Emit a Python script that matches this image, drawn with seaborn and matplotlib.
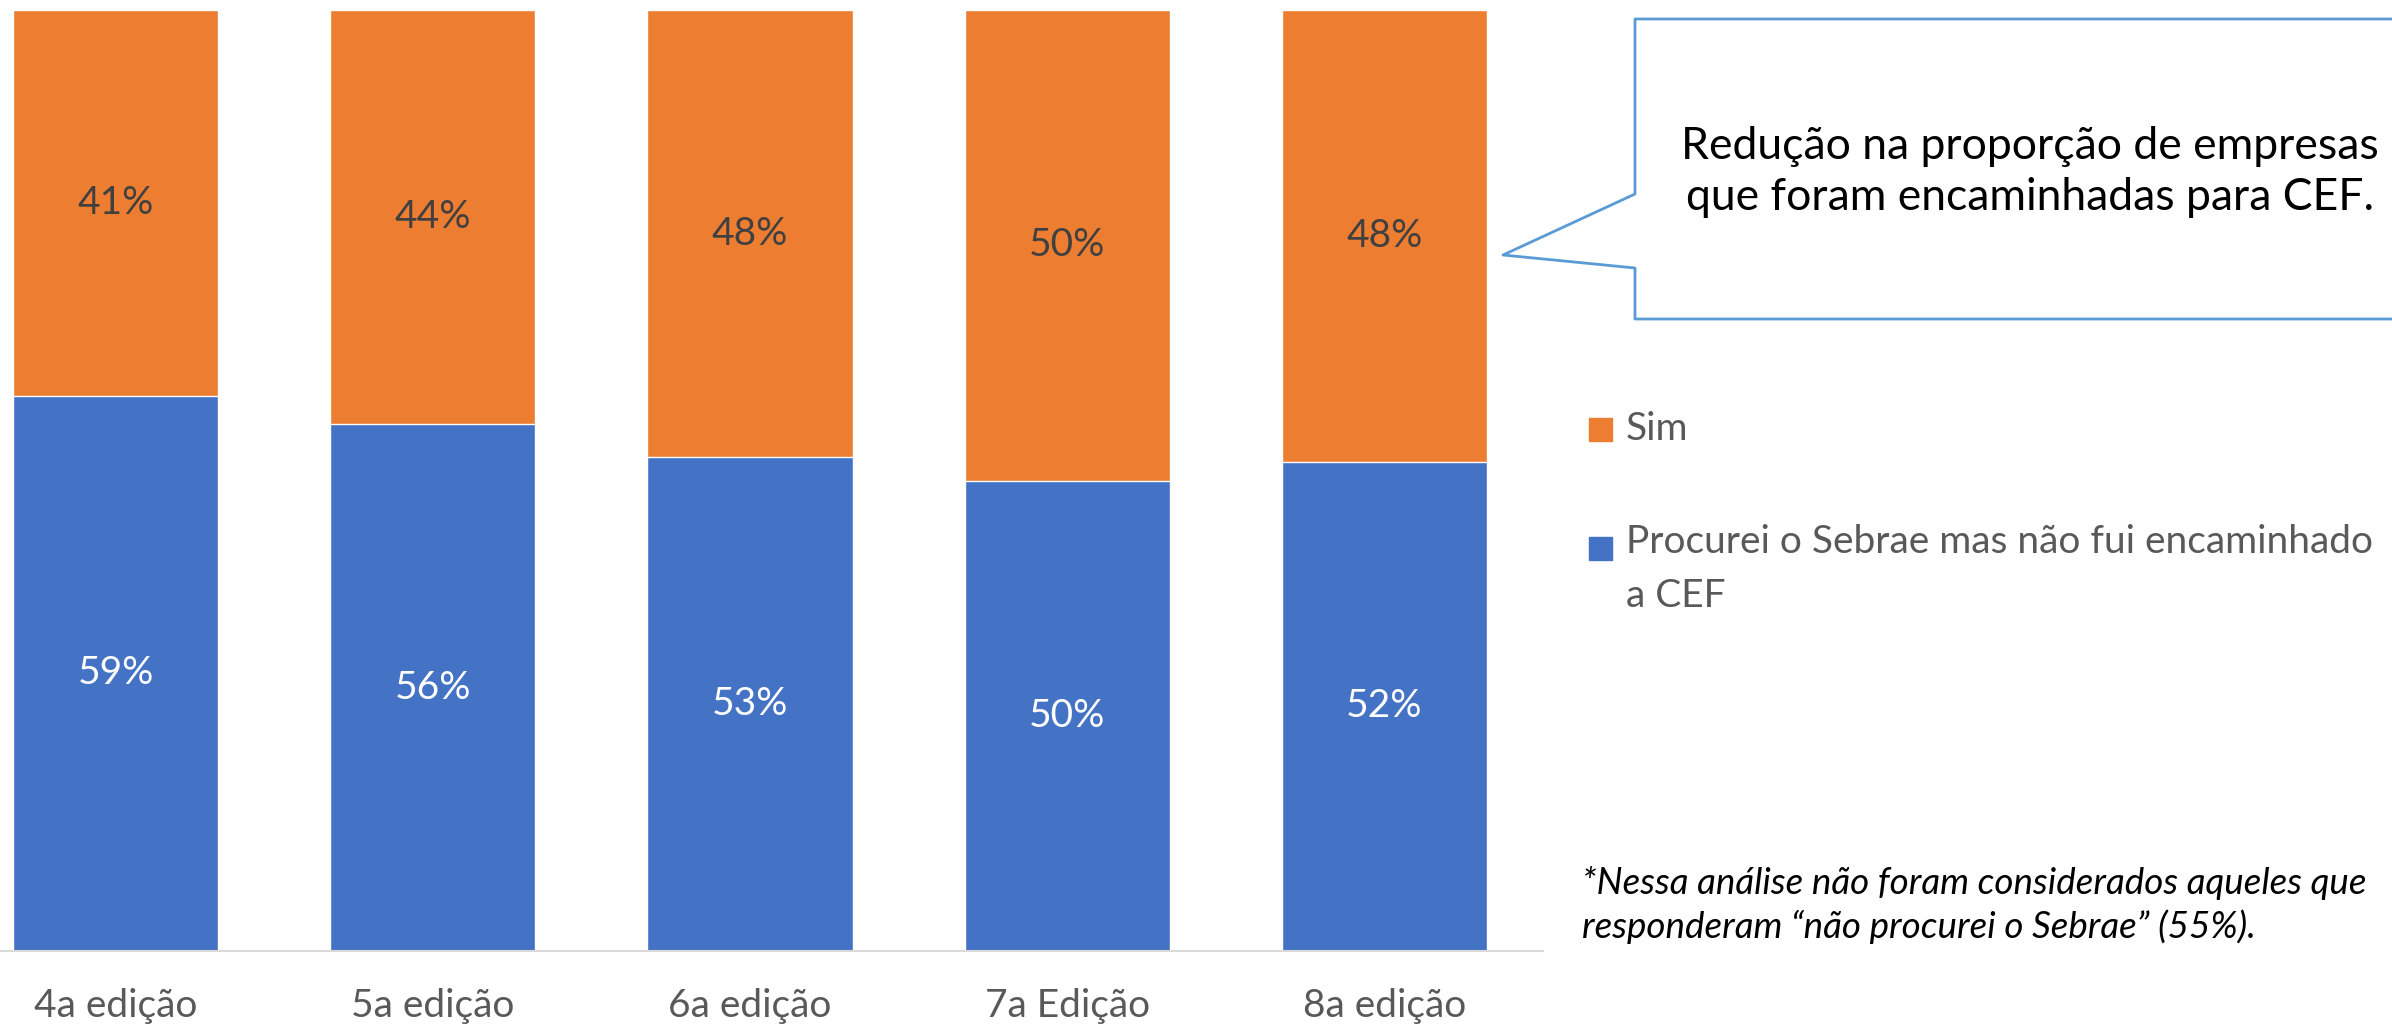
import pandas as pd
import matplotlib.pyplot as plt
import seaborn as sns
from matplotlib.patches import Rectangle
from matplotlib.lines import Line2D

# Data
edicoes = ['4a edição', '5a edição', '6a edição', '7a Edição', '8a edição']
sim = [41, 44, 48, 50, 48]
procurei = [59, 56, 53, 50, 52]

nome_sim = 'Sim'
nome_procurei = 'Procurei o Sebrae mas não fui encaminhado\na CEF'
texto_callout = 'Redução na proporção de empresas\nque foram encaminhadas para CEF.'
nota = ('*Nessa análise não foram considerados aqueles que\n'
        'responderam \u201cnão procurei o Sebrae\u201d (55%).')

AZUL = '#4472C4'
LARANJA = '#ED7D31'
CINZA = '#595959'

df = pd.DataFrame({'edicao': edicoes, 'sim': sim, 'procurei': procurei})
df['total'] = df['sim'] + df['procurei']
# 100% stacked, like the Excel chart
df['share_procurei'] = df['procurei'] / df['total']
df['share_total'] = 1.0

sns.set_style('white')
plt.rcParams['font.family'] = ['Lato', 'DejaVu Sans']

W, H = 2392, 1027
fig = plt.figure(figsize=(W / 100, H / 100), dpi=100)


def fx(x):
    return x / W


def fy(y):
    return 1 - y / H


ax = fig.add_axes([0, fy(951), fx(1543), (951 - 10) / H])

sns.barplot(x='edicao', y='share_total', data=df, color=LARANJA, width=0.647,
            saturation=1, ax=ax)
sns.barplot(x='edicao', y='share_procurei', data=df, color=AZUL, width=0.647,
            saturation=1, ax=ax)

# data labels
for i, row in df.iterrows():
    b = row['share_procurei']
    ax.text(i, b / 2, f"{row['procurei']}%", ha='center', va='center',
            color='white', fontsize=28)
    ax.text(i, b + (1 - b) / 2, f"{row['sim']}%", ha='center', va='center',
            color='#404040', fontsize=28)

ax.set_xlim(-0.5 + 43 / 317, 4.5)
ax.set_ylim(0, 1)
ax.set_xlabel('')
ax.set_ylabel('')
ax.set_yticks([])
ax.tick_params(axis='x', length=0, pad=27, labelsize=28, labelcolor=CINZA)
for s in ['top', 'right', 'left']:
    ax.spines[s].set_visible(False)
ax.spines['bottom'].set_color('#D9D9D9')
ax.spines['bottom'].set_linewidth(1.5)

# legend drawn by hand (square aligned with first line)
fig.patches.append(Rectangle((fx(1589), fy(441)), fx(23), 23 / H,
                             transform=fig.transFigure, color=LARANJA))
fig.text(fx(1626), fy(429), nome_sim, ha='left', va='center',
         fontsize=28, color=CINZA)
fig.patches.append(Rectangle((fx(1589), fy(560)), fx(23), 23 / H,
                             transform=fig.transFigure, color=AZUL))
fig.text(fx(1626), fy(524), nome_procurei, ha='left', va='top',
         fontsize=28, color=CINZA, linespacing=1.62)

# callout box
xs = [2400, 1635, 1635, 1503, 1635, 1635, 2400]
ys = [19, 19, 194, 255, 268, 319, 319]
fig.lines.append(Line2D([fx(x) for x in xs], [fy(y) for y in ys],
                        transform=fig.transFigure, color='#5B9BD5', lw=2))
fig.text(fx(2030), fy(172), texto_callout, ha='center', va='center',
         fontsize=32, color='black', linespacing=1.3)

# footnote
fig.text(fx(1582), fy(905), nota, ha='left', va='center', fontsize=26.5,
         style='italic', color='black', linespacing=1.3)

fig.savefig('out.png', dpi=100)
